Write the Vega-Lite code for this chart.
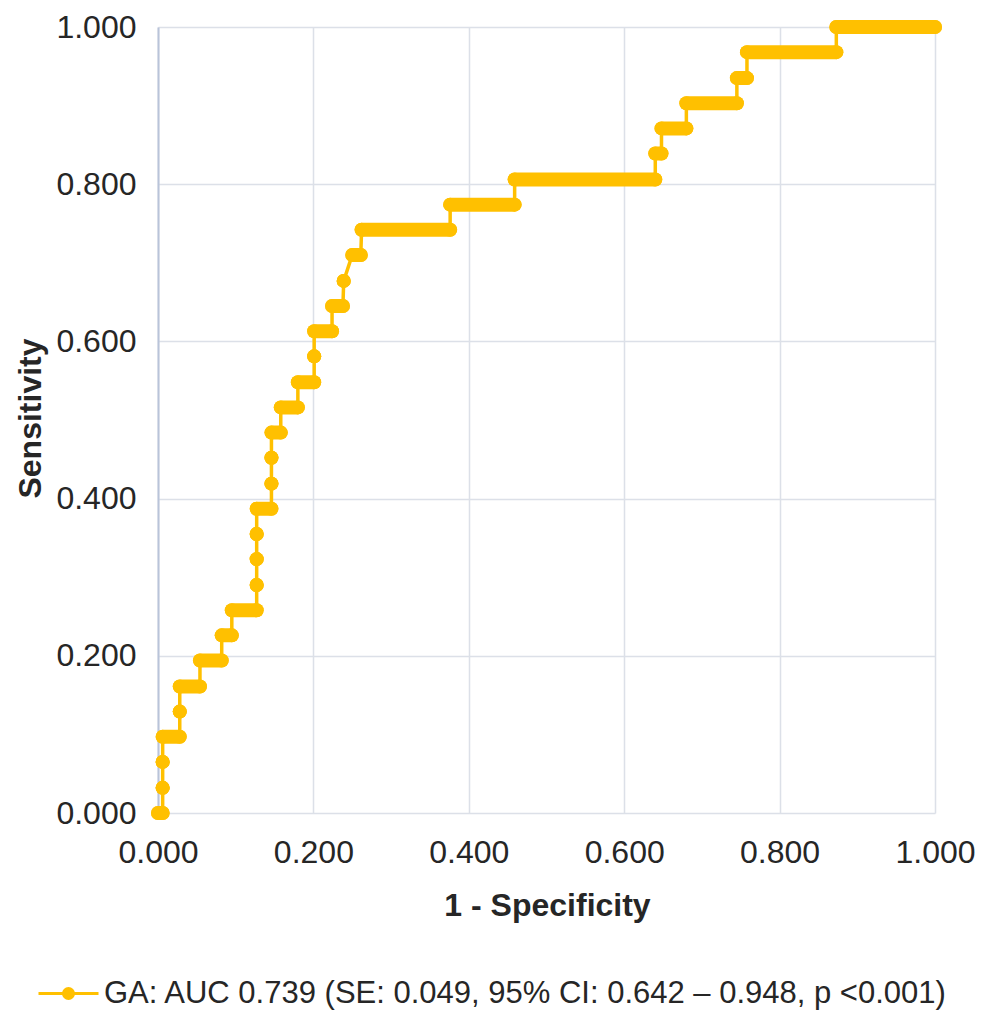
{
  "$schema": "https://vega.github.io/schema/vega-lite/v6.json",
  "width": 777,
  "height": 786,
  "autosize": {"type": "none"},
  "padding": {"left": 158, "top": 27, "right": 53, "bottom": 197},
  "background": "white",
  "config": {
    "view": {"stroke": null},
    "axis": {
      "labelFont": "Liberation Sans",
      "labelFontSize": 32,
      "labelColor": "#262626",
      "labelFlush": false,
      "titleFont": "Liberation Sans",
      "titleFontSize": 32,
      "titleFontWeight": "bold",
      "titleColor": "#262626",
      "gridColor": "#DCE0E8",
      "gridWidth": 1.5,
      "ticks": false,
      "domain": false
    }
  },
  "data": {
    "values": [
      {"x1": 0.000, "x2": 0.006, "sens": 0.000, "series": "GA: AUC 0.739 (SE: 0.049, 95% CI: 0.642 – 0.948, p <0.001)"},
      {"x1": 0.006, "x2": 0.006, "sens": 0.032, "series": "GA: AUC 0.739 (SE: 0.049, 95% CI: 0.642 – 0.948, p <0.001)"},
      {"x1": 0.006, "x2": 0.006, "sens": 0.065, "series": "GA: AUC 0.739 (SE: 0.049, 95% CI: 0.642 – 0.948, p <0.001)"},
      {"x1": 0.006, "x2": 0.028, "sens": 0.097, "series": "GA: AUC 0.739 (SE: 0.049, 95% CI: 0.642 – 0.948, p <0.001)"},
      {"x1": 0.028, "x2": 0.028, "sens": 0.129, "series": "GA: AUC 0.739 (SE: 0.049, 95% CI: 0.642 – 0.948, p <0.001)"},
      {"x1": 0.028, "x2": 0.054, "sens": 0.161, "series": "GA: AUC 0.739 (SE: 0.049, 95% CI: 0.642 – 0.948, p <0.001)"},
      {"x1": 0.054, "x2": 0.082, "sens": 0.194, "series": "GA: AUC 0.739 (SE: 0.049, 95% CI: 0.642 – 0.948, p <0.001)"},
      {"x1": 0.082, "x2": 0.095, "sens": 0.226, "series": "GA: AUC 0.739 (SE: 0.049, 95% CI: 0.642 – 0.948, p <0.001)"},
      {"x1": 0.095, "x2": 0.127, "sens": 0.258, "series": "GA: AUC 0.739 (SE: 0.049, 95% CI: 0.642 – 0.948, p <0.001)"},
      {"x1": 0.127, "x2": 0.127, "sens": 0.290, "series": "GA: AUC 0.739 (SE: 0.049, 95% CI: 0.642 – 0.948, p <0.001)"},
      {"x1": 0.127, "x2": 0.127, "sens": 0.323, "series": "GA: AUC 0.739 (SE: 0.049, 95% CI: 0.642 – 0.948, p <0.001)"},
      {"x1": 0.127, "x2": 0.127, "sens": 0.355, "series": "GA: AUC 0.739 (SE: 0.049, 95% CI: 0.642 – 0.948, p <0.001)"},
      {"x1": 0.127, "x2": 0.146, "sens": 0.387, "series": "GA: AUC 0.739 (SE: 0.049, 95% CI: 0.642 – 0.948, p <0.001)"},
      {"x1": 0.146, "x2": 0.146, "sens": 0.419, "series": "GA: AUC 0.739 (SE: 0.049, 95% CI: 0.642 – 0.948, p <0.001)"},
      {"x1": 0.146, "x2": 0.146, "sens": 0.452, "series": "GA: AUC 0.739 (SE: 0.049, 95% CI: 0.642 – 0.948, p <0.001)"},
      {"x1": 0.146, "x2": 0.158, "sens": 0.484, "series": "GA: AUC 0.739 (SE: 0.049, 95% CI: 0.642 – 0.948, p <0.001)"},
      {"x1": 0.158, "x2": 0.180, "sens": 0.516, "series": "GA: AUC 0.739 (SE: 0.049, 95% CI: 0.642 – 0.948, p <0.001)"},
      {"x1": 0.180, "x2": 0.201, "sens": 0.548, "series": "GA: AUC 0.739 (SE: 0.049, 95% CI: 0.642 – 0.948, p <0.001)"},
      {"x1": 0.201, "x2": 0.201, "sens": 0.581, "series": "GA: AUC 0.739 (SE: 0.049, 95% CI: 0.642 – 0.948, p <0.001)"},
      {"x1": 0.201, "x2": 0.224, "sens": 0.613, "series": "GA: AUC 0.739 (SE: 0.049, 95% CI: 0.642 – 0.948, p <0.001)"},
      {"x1": 0.224, "x2": 0.238, "sens": 0.645, "series": "GA: AUC 0.739 (SE: 0.049, 95% CI: 0.642 – 0.948, p <0.001)"},
      {"x1": 0.239, "x2": 0.239, "sens": 0.677, "series": "GA: AUC 0.739 (SE: 0.049, 95% CI: 0.642 – 0.948, p <0.001)"},
      {"x1": 0.250, "x2": 0.261, "sens": 0.710, "series": "GA: AUC 0.739 (SE: 0.049, 95% CI: 0.642 – 0.948, p <0.001)"},
      {"x1": 0.262, "x2": 0.376, "sens": 0.742, "series": "GA: AUC 0.739 (SE: 0.049, 95% CI: 0.642 – 0.948, p <0.001)"},
      {"x1": 0.376, "x2": 0.459, "sens": 0.774, "series": "GA: AUC 0.739 (SE: 0.049, 95% CI: 0.642 – 0.948, p <0.001)"},
      {"x1": 0.459, "x2": 0.640, "sens": 0.806, "series": "GA: AUC 0.739 (SE: 0.049, 95% CI: 0.642 – 0.948, p <0.001)"},
      {"x1": 0.640, "x2": 0.648, "sens": 0.839, "series": "GA: AUC 0.739 (SE: 0.049, 95% CI: 0.642 – 0.948, p <0.001)"},
      {"x1": 0.648, "x2": 0.680, "sens": 0.871, "series": "GA: AUC 0.739 (SE: 0.049, 95% CI: 0.642 – 0.948, p <0.001)"},
      {"x1": 0.680, "x2": 0.745, "sens": 0.903, "series": "GA: AUC 0.739 (SE: 0.049, 95% CI: 0.642 – 0.948, p <0.001)"},
      {"x1": 0.745, "x2": 0.758, "sens": 0.935, "series": "GA: AUC 0.739 (SE: 0.049, 95% CI: 0.642 – 0.948, p <0.001)"},
      {"x1": 0.758, "x2": 0.873, "sens": 0.968, "series": "GA: AUC 0.739 (SE: 0.049, 95% CI: 0.642 – 0.948, p <0.001)"},
      {"x1": 0.873, "x2": 1.000, "sens": 1.000, "series": "GA: AUC 0.739 (SE: 0.049, 95% CI: 0.642 – 0.948, p <0.001)"}
    ]
  },
  "layer": [
    {
      "transform": [{"fold": ["x1", "x2"], "as": ["end", "fpr"]}],
      "mark": {"type": "line", "color": "#FFC000", "strokeWidth": 3.5},
      "encoding": {
        "x": {
          "field": "fpr", "type": "quantitative",
          "scale": {"domain": [0, 1], "nice": false, "zero": false},
          "title": "1 - Specificity",
          "axis": {
            "values": [0, 0.2, 0.4, 0.6, 0.8, 1.0],
            "format": ".3f",
            "labelPadding": 24,
            "labelBaseline": "top",
            "labelAlign": "center",
            "titleX": 389,
            "titleY": 102,
            "titleBaseline": "alphabetic",
            "titleAlign": "center"
          }
        },
        "y": {
          "field": "sens", "type": "quantitative",
          "scale": {"domain": [0, 1], "nice": false, "zero": false},
          "title": "Sensitivity",
          "axis": {
            "values": [0, 0.2, 0.4, 0.6, 0.8, 1.0],
            "format": ".3f",
            "labelPadding": 22,
            "labelBaseline": "middle",
            "domain": true,
            "domainColor": "#B9C4D9",
            "domainWidth": 2,
            "titleX": -118,
            "titleY": 391,
            "titleAngle": -90,
            "titleBaseline": "alphabetic",
            "titleAlign": "center"
          }
        },
        "order": {"value": null}
      }
    },
    {
      "mark": {"type": "rule", "color": "#FFC000", "strokeWidth": 14, "strokeCap": "round"},
      "encoding": {
        "x": {"field": "x1", "type": "quantitative", "title": "1 - Specificity"},
        "x2": {"field": "x2"},
        "y": {"field": "sens", "type": "quantitative", "title": "Sensitivity"}
      }
    },
    {
      "transform": [{"fold": ["x1", "x2"], "as": ["end", "fpr"]}],
      "mark": {"type": "point", "filled": true, "opacity": 1, "size": 196},
      "encoding": {
        "x": {"field": "fpr", "type": "quantitative", "title": "1 - Specificity"},
        "y": {"field": "sens", "type": "quantitative", "title": "Sensitivity"},
        "color": {
          "field": "series", "type": "nominal",
          "scale": {"range": ["#FFC000"]},
          "legend": {
            "title": null,
            "orient": "none",
            "legendX": -121,
            "legendY": 935,
            "padding": 0,
            "symbolType": "M-1,0H1M0.167,0A0.167,0.167,0,1,1,-0.167,0A0.167,0.167,0,1,1,0.167,0Z",
            "symbolSize": 3600,
            "symbolStrokeWidth": 3,
            "symbolStrokeColor": "#FFC000",
            "symbolFillColor": "#FFC000",
            "labelFont": "Liberation Sans",
            "labelFontSize": 31,
            "labelColor": "#262626",
            "labelLimit": 2000,
            "labelOffset": 4,
            "encode": {
              "symbols": {"update": {"stroke": {"value": "#FFC000"}, "strokeWidth": {"value": 3}, "fill": {"value": "#FFC000"}, "opacity": {"value": 1}}}
            }
          }
        }
      }
    }
  ]
}
